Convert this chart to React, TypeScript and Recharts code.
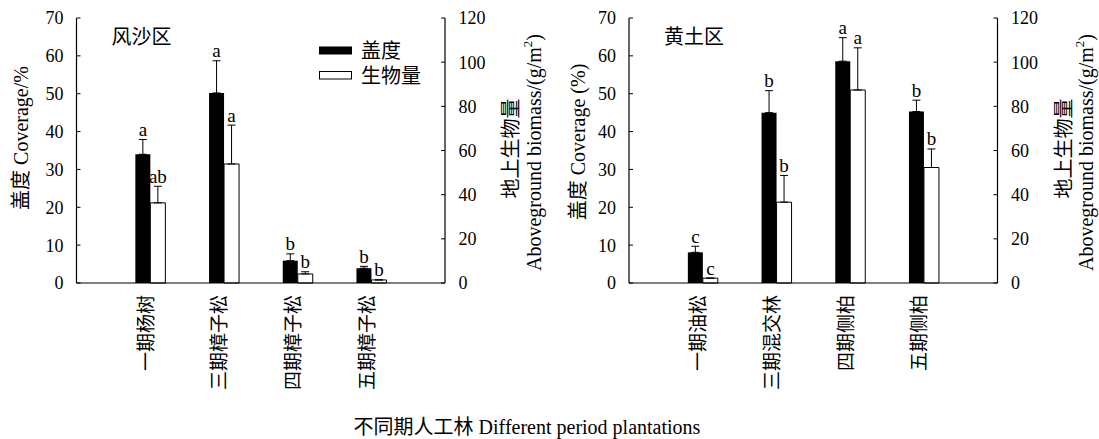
import React from 'react';
import { BarChart, Bar, XAxis, YAxis, ErrorBar, LabelList, Customized } from 'recharts';

const FONT = "'Liberation Serif', 'Times New Roman', 'Noto Sans CJK SC', serif";

// 风沙区
const cats1 = ['一期杨树', '三期樟子松', '四期樟子松', '五期樟子松'];
const cov1 = [34.0, 50.2, 5.9, 3.9];
const covErr1 = [3.9, 8.5, 1.8, 0.5];
const bio1 = [36.3, 53.9, 4.1, 1.4];
const bioErr1 = [7.5, 17.6, 1.0, 0];
const covLet1 = ['a', 'a', 'b', 'b'];
const bioLet1 = ['ab', 'a', 'b', 'b'];

// 黄土区
const cats2 = ['一期油松', '三期混交林', '四期侧柏', '五期侧柏'];
const cov2 = [8.1, 45.0, 58.6, 45.3];
const covErr2 = [1.6, 5.8, 6.2, 3.0];
const bio2 = [2.2, 36.6, 87.4, 52.3];
const bioErr2 = [0, 12.1, 19.1, 8.4];
const covLet2 = ['c', 'b', 'a', 'b'];
const bioLet2 = ['c', 'b', 'a', 'b'];

const covTicks = [0, 10, 20, 30, 40, 50, 60, 70];
const bioTicks = [0, 20, 40, 60, 80, 100, 120];

const PLOT_TOP = 18;
const PLOT_BOTTOM = 283;
const H = 439;
const AXIS_W = 60;
const X_H = 110;

const makeLetter = (vals: number[], errs: number[]) => (p: any) => {
  const vb = p.viewBox || p;
  const x = Number(vb.x);
  const y = Number(vb.y);
  const w = Number(vb.width);
  const h = Number(vb.height);
  const i = p.index;
  const v = vals[i];
  const e = errs[i];
  const top = v > 0 ? y - (h * e) / v : y;
  return (
    <text x={x + w / 2} y={top - 3.5} textAnchor="middle" fontSize={19} fontFamily={FONT} fill="#000">
      {p.value}
    </text>
  );
};

const XTick = (p: any) => {
  const { x, y, payload } = p;
  const cx = x - 4;
  return (
    <text
      x={cx}
      y={y}
      transform={`rotate(-90, ${cx}, ${y})`}
      textAnchor="end"
      dominantBaseline="central"
      fontSize={19}
      fontFamily={FONT}
      fill="#000"
    >
      {payload.value}
    </text>
  );
};

type PanelProps = {
  cats: string[];
  cov: number[];
  covErr: number[];
  bio: number[];
  bioErr: number[];
  covLet: string[];
  bioLet: string[];
  title: string;
  leftLabel: string;
  leftLabelDx: number;
  leftLabelY: number;
  legend: boolean;
  left: number;
  width: number;
  marginLeft: number;
  marginRight: number;
};

function Panel(props: PanelProps) {
  const { cats, cov, covErr, bio, bioErr, covLet, bioLet, title, leftLabel, leftLabelDx, leftLabelY, legend, left, width, marginLeft, marginRight } = props;
  const data = cats.map((c, i) => ({
    name: c,
    cov: cov[i],
    covE: [0, covErr[i]],
    bio: bio[i],
    bioE: [0, bioErr[i]],
    covL: covLet[i],
    bioL: bioLet[i],
  }));
  const plotLeft = marginLeft + AXIS_W;
  const plotRight = width - marginRight - AXIS_W;
  const plotW = plotRight - plotLeft;
  const pad = plotW / 10;
  const cy = (PLOT_TOP + PLOT_BOTTOM) / 2;

  const Overlay = () => (
    <g>
      <text x={plotLeft + 35} y={37} dominantBaseline="central" fontSize={20} fontFamily={FONT} fill="#000">
        {title}
      </text>
      <text
        x={plotLeft - leftLabelDx}
        y={leftLabelY}
        transform={`rotate(-90, ${plotLeft - leftLabelDx}, ${leftLabelY})`}
        textAnchor="middle"
        dominantBaseline="central"
        fontSize={20}
        fontFamily={FONT}
        fill="#000"
      >
        {leftLabel}
      </text>
      <text
        x={plotRight + 66}
        y={cy - 2}
        transform={`rotate(-90, ${plotRight + 66}, ${cy - 2})`}
        textAnchor="middle"
        dominantBaseline="central"
        fontSize={20}
        fontFamily={FONT}
        fill="#000"
      >
        地上生物量
      </text>
      <text
        x={plotRight + 88.5}
        y={cy + 2}
        transform={`rotate(-90, ${plotRight + 88.5}, ${cy + 2})`}
        textAnchor="middle"
        dominantBaseline="central"
        fontSize={20}
        fontFamily={FONT}
        fill="#000"
      >
        Aboveground biomass/(g/m<tspan dy={-7} fontSize={13}>2</tspan><tspan dy={7}>)</tspan>
      </text>
      {legend && (
        <g>
          <rect x={319} y={46.5} width={33} height={8} fill="#000" />
          <text x={361} y={50.5} dominantBaseline="central" fontSize={20} fontFamily={FONT} fill="#000">盖度</text>
          <rect x={319.5} y={71.5} width={32} height={7.5} fill="#fff" stroke="#000" strokeWidth={1} />
          <text x={361} y={75.5} dominantBaseline="central" fontSize={20} fontFamily={FONT} fill="#000">生物量</text>
        </g>
      )}
    </g>
  );

  return (
    <div style={{ position: 'absolute', left, top: 0, width, height: H }}>
      <BarChart
        width={width}
        height={H}
        data={data}
        barSize={15}
        barGap={0}
        margin={{ top: PLOT_TOP, right: marginRight, bottom: H - PLOT_BOTTOM - X_H, left: marginLeft }}
      >
        <XAxis
          dataKey="name"
          height={X_H}
          padding={{ left: pad, right: pad }}
          tickLine={false}
          tickSize={0}
          tickMargin={12}
          interval={0}
          tick={<XTick />}
          axisLine={{ stroke: '#000', strokeWidth: 1.2 }}
        />
        <YAxis
          yAxisId="left"
          orientation="left"
          width={AXIS_W}
          domain={[0, 70]}
          ticks={covTicks}
          interval={0}
          tickSize={-4}
          tickMargin={17}
          tick={{ fontSize: 18, fill: '#000', fontFamily: FONT }}
          tickLine={{ stroke: '#000' }}
          axisLine={{ stroke: '#000', strokeWidth: 1.2 }}
        />
        <YAxis
          yAxisId="right"
          orientation="right"
          width={AXIS_W}
          domain={[0, 120]}
          ticks={bioTicks}
          interval={0}
          tickSize={-4}
          tickMargin={17.5}
          tick={{ fontSize: 18, fill: '#000', fontFamily: FONT }}
          tickLine={{ stroke: '#000' }}
          axisLine={{ stroke: '#000', strokeWidth: 1.2 }}
        />
        <Bar yAxisId="left" dataKey="cov" fill="#000" isAnimationActive={false}>
          <ErrorBar dataKey="covE" width={4} stroke="#000" strokeWidth={1} direction="y" isAnimationActive={false} />
          <LabelList dataKey="covL" content={makeLetter(cov, covErr)} />
        </Bar>
        <Bar yAxisId="right" dataKey="bio" fill="#fff" stroke="#000" strokeWidth={1} isAnimationActive={false}>
          <ErrorBar dataKey="bioE" width={4} stroke="#000" strokeWidth={1} direction="y" isAnimationActive={false} />
          <LabelList dataKey="bioL" content={makeLetter(bio, bioErr)} />
        </Bar>
        <Customized component={Overlay} />
      </BarChart>
    </div>
  );
}

export default function App() {
  return (
    <div style={{ position: 'absolute', left: 0, top: 0, width: 1099, height: 439, background: '#fff', fontFamily: FONT }}>
      <Panel
        cats={cats1}
        cov={cov1}
        covErr={covErr1}
        bio={bio1}
        bioErr={bioErr1}
        covLet={covLet1}
        bioLet={bioLet1}
        title="风沙区"
        leftLabel="盖度 Coverage/%"
        leftLabelDx={55.5}
        leftLabelY={138}
        legend={true}
        left={0}
        width={560}
        marginLeft={16.5}
        marginRight={55}
      />
      <Panel
        cats={cats2}
        cov={cov2}
        covErr={covErr2}
        bio={bio2}
        bioErr={bioErr2}
        covLet={covLet2}
        bioLet={bioLet2}
        title="黄土区"
        leftLabel="盖度 Coverage (%)"
        leftLabelDx={51}
        leftLabelY={142}
        legend={false}
        left={560}
        width={539}
        marginLeft={9}
        marginRight={41.5}
      />
      <div
        style={{
          position: 'absolute',
          left: 327,
          width: 400,
          top: 415,
          textAlign: 'center',
          fontSize: 20,
          lineHeight: '24px',
          color: '#000',
          fontFamily: FONT,
          whiteSpace: 'nowrap',
        }}
      >
        不同期人工林 Different period plantations
      </div>
    </div>
  );
}
